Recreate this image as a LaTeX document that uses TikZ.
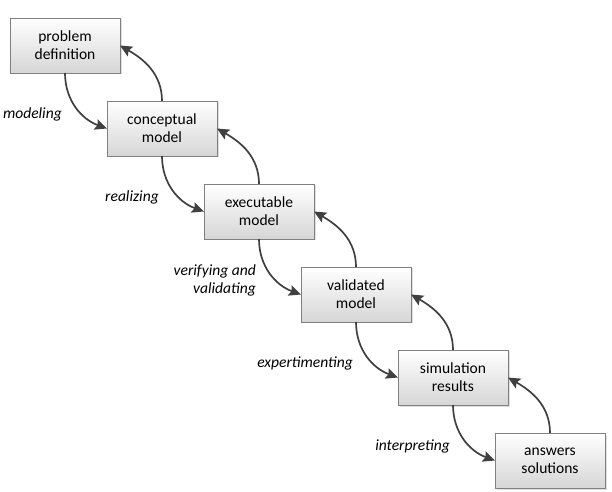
\documentclass[tikz,border=0pt]{standalone}
\usepackage{fontspec}
\setmainfont{Carlito}
\usepackage{tikz}
\usetikzlibrary{positioning,arrows.meta,shadows,calc}
\definecolor{edge}{RGB}{128,128,128}
\definecolor{ink}{RGB}{64,64,64}
\definecolor{shade}{RGB}{214,214,214}

\begin{document}
\begin{tikzpicture}[x=1bp, y=1bp,
		stage/.style={draw=edge, line width=0.9bp, top color=white, bottom color=shade,
			minimum width=110bp, minimum height=55bp, inner sep=2bp, outer sep=0pt,
			align=center, font=\fontsize{15.6}{18}\selectfont,
			drop shadow={opacity=0.25, shadow xshift=1.5bp, shadow yshift=-1.5bp}},
		lbl/.style={anchor=east, align=right, inner sep=0pt,
			font=\fontsize{15.6}{18}\selectfont\itshape},
		arr/.style={-{Stealth[length=12bp, width=11bp, inset=2bp]}, line width=1.7bp, ink}]
		\useasboundingbox (0,0) rectangle (612,492);
		\node[stage] (pd) at (65,446.5) {problem\\definition};
		\node[stage, below right=28bp and -13bp of pd] (cm) {conceptual\\model};
		\node[stage, below right=28bp and -13bp of cm] (em) {executable\\model};
		\node[stage, below right=28bp and -13bp of em] (vm) {validated\\model};
		\node[stage, below right=28bp and -13bp of vm] (sr) {simulation\\results};
		\node[stage, below right=28bp and -13bp of sr] (as) {answers\\solutions};
		% forward steps
		\draw[arr] (pd.south) to[out=-90, in=160] (cm.west);
		\draw[arr] (cm.south) to[out=-90, in=160] (em.west);
		\draw[arr] (em.south) to[out=-90, in=160] (vm.west);
		\draw[arr] (vm.south) to[out=-90, in=160] (sr.west);
		\draw[arr] (sr.south) to[out=-90, in=160] (as.west);
		% feedback
		\draw[arr] (cm.north) to[out=90, in=-30] (pd.east);
		\draw[arr] (em.north) to[out=90, in=-30] (cm.east);
		\draw[arr] (vm.north) to[out=90, in=-30] (em.east);
		\draw[arr] (sr.north) to[out=90, in=-30] (vm.east);
		\draw[arr] (as.north) to[out=90, in=-30] (sr.east);
		% step labels
		\node[lbl] (l1) at ($(pd.south |- cm.west)+(-3,14)$) {modeling};
		\node[lbl] (l2) at ($(cm.south |- em.west)+(-3,14)$) {realizing};
		\node[lbl] (l3) at ($(em.south |- vm.west)+(-3,14)$) {verifying and\\validating};
		\node[lbl] (l4) at ($(vm.south |- sr.west)+(-3,14)$) {expertimenting};
		\node[lbl] (l5) at ($(sr.south |- as.west)+(-3,14)$) {interpreting};
	\end{tikzpicture}
\end{document}
